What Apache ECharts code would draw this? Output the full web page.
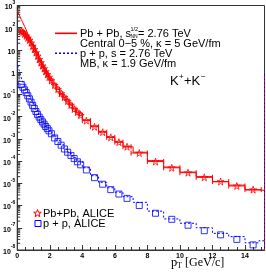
<!DOCTYPE html>
<html><head><meta charset="utf-8">
<script src="https://cdn.jsdelivr.net/npm/echarts@6/dist/echarts.min.js"></script>
<style>html,body{margin:0;padding:0;background:#fff}#c{width:266px;height:272px}</style>
</head><body><div id="c"></div>
<script>
// ALICE data bins (pT, GeV/c) and half-widths
const dataPt = [0.25,0.35,0.45,0.55,0.65,0.75,0.85,0.95,1.05,1.15,1.25,1.35,1.45,1.55,1.65,1.75,1.85,1.95,
  2.1,2.3,2.5,2.7,2.9,3.1,3.3,3.5,3.7,3.9,4.25,4.75,5.25,5.75,6.25,6.75,7.5,8.5,9.5,10.5,11.5,12.5,13.5,14.5];
const dataXerr = [0.05,0.05,0.05,0.05,0.05,0.05,0.05,0.05,0.05,0.05,0.05,0.05,0.05,0.05,0.05,0.05,0.05,0.05,
  0.1,0.1,0.1,0.1,0.1,0.1,0.1,0.1,0.1,0.1,0.25,0.25,0.25,0.25,0.25,0.25,0.5,0.5,0.5,0.5,0.5,0.5,0.5,0.5];
const pbpbAlice = [69,63,52,43,35,28,21,15,10.7,7.6,5.4,3.8,2.7,1.95,1.45,1.07,0.79,0.60,
  0.42,0.26,0.17,0.11,0.074,0.050,0.033,0.022,0.016,0.0115,
  0.0066,0.0035,0.0020,0.00117,0.00071,0.00044,
  0.00023,9.5e-5,5.0e-5,3.0e-5,1.86e-5,1.2e-5,7.6e-6,5.2e-6];
const ppAlice = [0.28,0.21,0.16,0.12,0.087,0.063,0.045,0.032,0.023,0.017,0.0126,0.0095,0.0074,0.0058,0.0046,0.0036,0.0029,0.0023,
  0.0017,0.0011,7.6e-4,5.2e-4,3.5e-4,2.5e-4,1.8e-4,1.3e-4,9.3e-5,6.8e-5,
  4.0e-5,1.8e-5,9.1e-6,5.2e-6,3.3e-6,2.1e-6,
  1.0e-6,4.5e-7,2.4e-7,1.3e-7,7.4e-8,4.8e-8,3.0e-8,1.7e-8];
// model curves (histograms)
const modelPt = [0.03,0.1,0.2,0.3,0.4,0.5,0.6,0.7,0.8,0.9,1.0,1.2,1.4,1.6,1.8,2.0,2.25,2.5,2.75,3.0,3.25,3.5,3.75,
  4.25,4.75,5.25,5.75,6.25,6.75,7.5,8.5,9.5,10.5,11.5,12.5,13.5,14.5,15.2];
const pbpbModel = [590,470,330,235,166,115,80,52,35,23,16,7.6,3.5,1.8,0.95,0.55,0.3,0.17,0.1,0.06,0.036,0.023,0.0148,
  0.0071,0.0038,0.0021,0.0012,7.2e-4,4.4e-4,2.5e-4,1.05e-4,5.4e-5,3.2e-5,2.0e-5,1.17e-5,8.3e-6,5.0e-6,4.8e-6];
const ppModel = [2.0,1.6,1.0,0.56,0.35,0.25,0.18,0.126,0.085,0.058,0.040,0.019,0.0100,0.0058,0.0036,0.0023,0.00145,8.7e-4,5.4e-4,3.4e-4,2.2e-4,1.45e-4,1.0e-4,
  5.0e-5,2.2e-5,1.1e-5,6.3e-6,4.0e-6,2.5e-6,1.4e-6,5.6e-7,2.5e-7,1.6e-7,1.0e-7,5.6e-8,4.0e-8,2.1e-8,2.6e-8];
const edgePt = [15.2,15.2];
const edgeVal = [0.8,1e-8];
const xMin = 0, xMax = 15.2, yMin = 1e-8, yMax = 1e3;

const RED = '#ff0000', BLUE = '#0000ff', FRAME = '#333333';
const FONT = '"Liberation Sans", Arial, sans-serif';
const SERIF = '"Liberation Serif", "Times New Roman", serif';
const STAR = 'path://M50,0 L61.2,34.5 L97.6,34.5 L68.2,55.9 L79.4,90.5 L50,69.1 L20.6,90.5 L31.8,55.9 L2.4,34.5 L38.8,34.5 Z';

const minorY = [];
for (let e = Math.round(Math.log10(yMin)); e < Math.round(Math.log10(yMax)); e++)
  for (let k = 2; k <= 9; k++) minorY.push(k * Math.pow(10, e));

function starPoints(cx, cy, r) {
  const pts = [];
  for (let i = 0; i < 10; i++) {
    const a = -Math.PI / 2 + i * Math.PI / 5;
    const rr = i % 2 ? r * 0.4 : r;
    pts.push([cx + rr * Math.cos(a), cy + rr * Math.sin(a)]);
  }
  return pts;
}

const chart = echarts.init(document.getElementById('c'), null, {renderer: 'canvas'});
const txt = (x, y, text, size, extra) => Object.assign({
  type: 'text', x: x, y: y, z: 100,
  style: Object.assign({text: text, fontSize: size, fontFamily: FONT, fill: '#000', verticalAlign: 'middle'}, extra || {})
});
// legend line samples drawn as thin filled rects (solid) or runs of short rects (dotted)
const solidSeg = (x1, x2, y, color) => ({
  type: 'rect', z: 100, shape: {x: x1, y: y, width: x2 - x1, height: 1.6}, style: {fill: color}
});
const dotSeg = (x1, x2, y, color) => {
  const kids = [];
  for (let x = x1; x < x2; x += 4) kids.push({type: 'rect', shape: {x: x, y: y, width: 2, height: 1.6}, style: {fill: color}});
  return {type: 'group', z: 100, children: kids};
};

chart.setOption({
  animation: false,
  grid: {left: 14, right: 1.5, top: 2, bottom: 22, show: true, borderColor: FRAME, borderWidth: 1, containLabel: false},
  xAxis: {
    type: 'value', min: xMin, max: xMax, interval: 2,
    axisLine: {show: true, lineStyle: {color: FRAME, width: 1}},
    axisTick: {show: true, inside: true, length: 5, lineStyle: {color: FRAME}},
    minorTick: {show: true, splitNumber: 4, length: 3, lineStyle: {color: FRAME}},
    splitLine: {show: false},
    axisLabel: {show: true, showMaxLabel: false, margin: 3, fontSize: 7, fontWeight: 'bold', fontFamily: FONT, color: '#000'}
  },
  yAxis: {
    type: 'log', logBase: 10, min: yMin, max: yMax, interval: 1,
    axisLine: {show: true, lineStyle: {color: FRAME, width: 1}},
    axisTick: {show: true, inside: true, length: 5, lineStyle: {color: FRAME}},
    minorTick: {show: false},
    splitLine: {show: false},
    axisLabel: {
      margin: 2,
      formatter: function (v) {
        const e = Math.round(Math.log10(v));
        if (e === 0) return '{b|1}';
        if (e === 1) return '{b|10}';
        return '{b|10}{s|' + e + '}';
      },
      rich: {
        b: {fontSize: 7, fontWeight: 'bold', fontFamily: FONT, color: '#000', lineHeight: 11, verticalAlign: 'bottom'},
        s: {fontSize: 5, fontWeight: 'bold', fontFamily: FONT, color: '#000', lineHeight: 5, verticalAlign: 'top'}
      }
    }
  },
  series: [
    {
      type: 'custom', name: 'minorY', silent: true, z: 1,
      data: minorY.map(v => [xMin, v]),
      renderItem: function (params, api) {
        const p = api.coord([xMin, api.value(1)]);
        return {type: 'line', shape: {x1: p[0], y1: p[1], x2: p[0] + 3, y2: p[1]}, style: {stroke: FRAME, lineWidth: 1}};
      }
    },
    {
      type: 'line', name: 'Pb+Pb model', step: 'middle', symbol: 'none', z: 3,
      data: modelPt.map((x, i) => [x, pbpbModel[i]]),
      lineStyle: {color: RED, width: 1}
    },
    {
      type: 'line', name: 'p+p model', step: 'middle', symbol: 'none', z: 3,
      data: modelPt.map((x, i) => [x, ppModel[i]]),
      lineStyle: {color: BLUE, width: 1, type: [2, 2]}
    },
    {
      type: 'line', name: 'edgeRed', symbol: 'none', z: 3, clip: false,
      data: edgePt.map((x, i) => [x, edgeVal[i]]),
      lineStyle: {color: RED, width: 1}
    },
    {
      type: 'line', name: 'edgeBlue', symbol: 'none', z: 4, clip: false,
      data: edgePt.map((x, i) => [x, edgeVal[i]]),
      lineStyle: {color: BLUE, width: 1, type: [2, 2]}
    },
    {
      type: 'custom', name: 'Pb+Pb err', z: 5,
      data: dataPt.map((x, i) => [x, pbpbAlice[i], dataXerr[i]]),
      renderItem: function (params, api) {
        const x = api.value(0), y = api.value(1), e = api.value(2);
        const a = api.coord([x - e, y]), b = api.coord([x + e, y]);
        const st = {stroke: RED, lineWidth: 1};
        return {type: 'group', children: [
          {type: 'line', shape: {x1: a[0], y1: a[1], x2: b[0], y2: b[1]}, style: st},
          {type: 'line', shape: {x1: a[0], y1: a[1] - 2.5, x2: a[0], y2: a[1] + 2.5}, style: st},
          {type: 'line', shape: {x1: b[0], y1: b[1] - 2.5, x2: b[0], y2: b[1] + 2.5}, style: st}
        ]};
      }
    },
    {
      type: 'scatter', name: 'Pb+Pb, ALICE', symbol: STAR, symbolSize: 7, z: 6,
      data: dataPt.map((x, i) => [x, pbpbAlice[i]]),
      itemStyle: {color: 'rgba(0,0,0,0)', borderColor: RED, borderWidth: 1}
    },
    {
      type: 'scatter', name: 'p + p, ALICE', symbol: 'rect', symbolSize: 6, z: 6,
      data: dataPt.map((x, i) => [x, ppAlice[i]]),
      itemStyle: {color: 'rgba(0,0,0,0)', borderColor: BLUE, borderWidth: 1}
    }
  ],
  graphic: [
    solidSeg(55, 77, 32.5, RED),
    txt(80, 33.5, 'Pb + Pb, s', 11),
    txt(130.5, 29.5, '1/2', 5.5),
    txt(130.5, 37, 'NN', 5),
    txt(138, 33.5, '= 2.76 TeV', 11),
    txt(80, 43.5, 'Central 0\u22125 %, \u03ba = 5 GeV/fm', 11),
    dotSeg(55, 77, 52.5, BLUE),
    txt(80, 53.5, 'p + p, s = 2.76 TeV', 11),
    txt(80, 63.5, 'MB, \u03ba = 1.9 GeV/fm', 11),
    txt(170, 81, 'K', 13),
    txt(179, 77, '+', 8),
    txt(184, 81, '+K', 13),
    txt(201, 77, '\u2212', 8),
    {type: 'polygon', z: 100, shape: {points: starPoints(37.5, 213.5, 4)}, style: {fill: 'none', stroke: RED, lineWidth: 1}},
    txt(43, 213.5, 'Pb+Pb, ALICE', 11),
    {type: 'rect', z: 100, shape: {x: 35, y: 220.5, width: 6, height: 6}, style: {fill: 'none', stroke: BLUE, lineWidth: 1}},
    txt(43, 223.5, 'p + p, ALICE', 11),
    txt(171, 263, 'p', 12.5, {fontFamily: SERIF}),
    txt(177, 266, 'T', 8, {fontFamily: SERIF}),
    txt(185, 263, '[GeV/c]', 12, {fontFamily: SERIF})
  ]
});
</script>
</body></html>
